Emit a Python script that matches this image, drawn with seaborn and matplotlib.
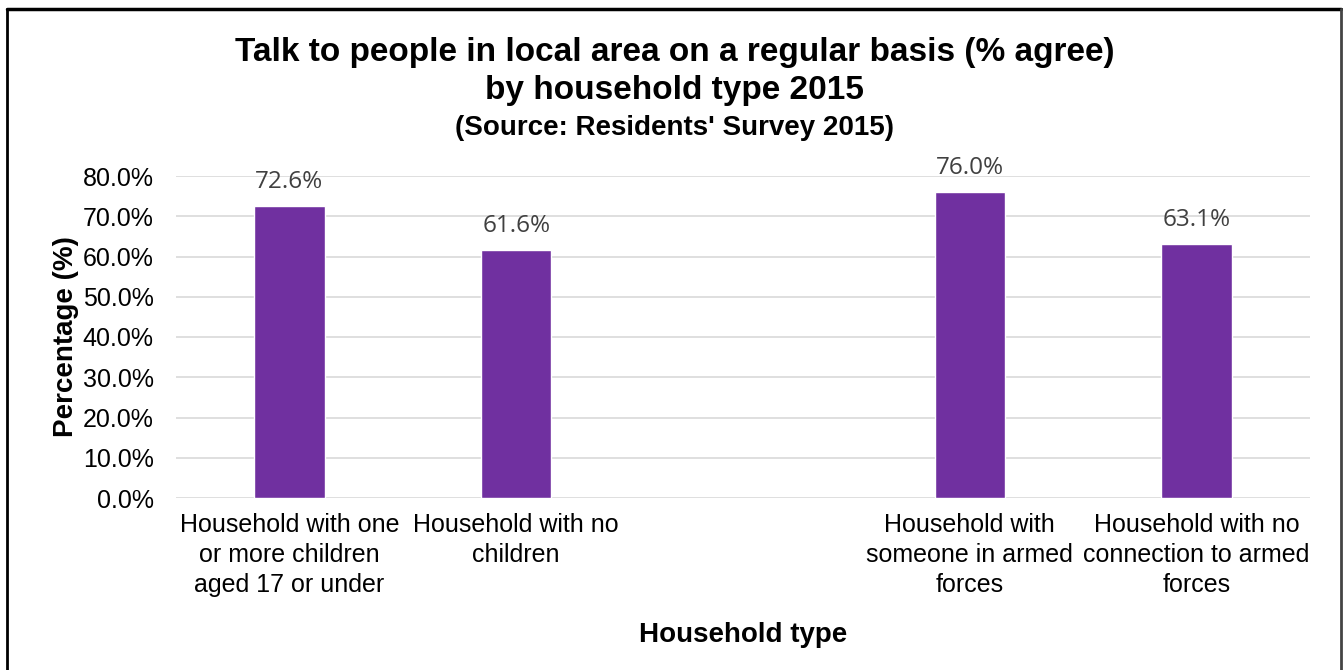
import matplotlib
matplotlib.use("Agg")
import matplotlib.pyplot as plt
import seaborn as sns
import pandas as pd
from matplotlib.lines import Line2D
from matplotlib.ticker import FuncFormatter

# Household types (a blank slot separates the two groups)
categories = [
    "Household with one\nor more children\naged 17 or under",
    "Household with no\nchildren",
    " ",
    "Household with\nsomeone in armed\nforces",
    "Household with no\nconnection to armed\nforces",
]
values = [72.6, 61.6, None, 76.0, 63.1]
y_ticks = [0, 10, 20, 30, 40, 50, 60, 70, 80]

bar_color = "#7030A0"
grid_color = "#D9D9D9"

sns.set_theme(style="white")
plt.rcParams["font.family"] = ["Liberation Sans", "DejaVu Sans"]
plt.rcParams["text.color"] = "black"
plt.rcParams["axes.labelcolor"] = "black"

df = pd.DataFrame({"household": categories, "pct": values})

fig = plt.figure(figsize=(13.43, 6.70), dpi=100)
ax = fig.add_axes([176 / 1343, 1 - 498 / 670, (1310 - 176) / 1343, (498 - 176) / 670])

sns.barplot(data=df, x="household", y="pct", order=categories, color=bar_color,
            saturation=1, width=0.31, ax=ax, zorder=3)

ax.set_ylim(0, 80)
ax.set_xlim(-0.5, len(categories) - 0.5)
ax.set_yticks(y_ticks)
ax.yaxis.set_major_formatter(FuncFormatter(lambda v, _: f"{v:.1f}%"))
ax.grid(axis="y", color=grid_color, linewidth=1.2, zorder=0)
ax.grid(axis="x", visible=False)
for s in ax.spines.values():
    s.set_visible(False)
ax.tick_params(axis="both", length=0, labelsize=18, colors="black")
ax.tick_params(axis="y", pad=16)
ax.tick_params(axis="x", pad=11)
for lbl in ax.get_xticklabels():
    lbl.set_linespacing(1.3)

# Value labels above each bar
for i, v in enumerate(values):
    if v is None:
        continue
    ax.text(i, v + 3.0, f"{v:.1f}%", ha="center", va="bottom", fontsize=17.5,
            color="#404040", family=["Open Sans", "DejaVu Sans"], clip_on=False)

ax.set_xlabel("Household type", fontsize=20, fontweight="bold", labelpad=18)
ax.set_ylabel("Percentage (%)", fontsize=20, fontweight="bold", labelpad=3)

fig.text(0.5025, 1 - 53 / 670, "Talk to people in local area on a regular basis (% agree)",
         ha="center", va="center", fontsize=24, fontweight="bold")
fig.text(0.5025, 1 - 91 / 670, "by household type 2015",
         ha="center", va="center", fontsize=24, fontweight="bold")
fig.text(0.5025, 1 - 128 / 670, "(Source: Residents' Survey 2015)",
         ha="center", va="center", fontsize=20, fontweight="bold")

# Frame around the chart (open at the bottom)
W, H = 1343, 670
fig.add_artist(Line2D([7 / W, 1341 / W], [1 - 9 / H, 1 - 9 / H], color="black", lw=2.5,
                      transform=fig.transFigure))
fig.add_artist(Line2D([7 / W, 7 / W], [0, 1 - 9 / H], color="black", lw=2,
                      transform=fig.transFigure))
fig.add_artist(Line2D([1341 / W, 1341 / W], [0, 1 - 9 / H], color="#444444", lw=2,
                      transform=fig.transFigure))

fig.savefig("out.png", dpi=100)
